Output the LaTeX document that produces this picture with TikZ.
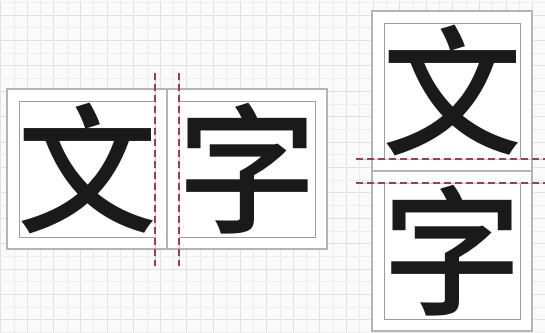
\documentclass[tikz,border=0pt]{standalone}
\usepackage{fontspec}
\IfFontExistsTF{Noto Sans CJK SC Medium}
  {\newfontfamily\cjk{Noto Sans CJK SC Medium}}
  {\newfontfamily\cjk{Noto Sans CJK SC}}
\usetikzlibrary{shadows}
\definecolor{bgc}{HTML}{FAFAFA}
\definecolor{gridc}{HTML}{E2E2E2}
\definecolor{gridminor}{HTML}{EDEDED}
\definecolor{outerc}{HTML}{B4B4B4}
\definecolor{innerc}{HTML}{9C9C9C}
\definecolor{guidec}{HTML}{9E3E50}
\definecolor{pinkc}{HTML}{F0B8C0}
\definecolor{inkc}{HTML}{1A1A1A}
\begin{document}
\begin{tikzpicture}[x=1pt,y=-1pt,
  cell/.style={draw=outerc, line width=1.2pt, fill=white, minimum size=160pt, inner sep=0pt,
    drop shadow={shadow xshift=1pt, shadow yshift=-1.2pt, opacity=0.25}},
  face/.style={draw=innerc, line width=0.9pt, minimum size=136pt, inner sep=0pt},
  glyph/.style={font=\cjk\fontsize{140}{140}\selectfont, text=inkc, inner sep=0pt, anchor=base},
  guide/.style={draw=guidec, line width=1.6pt, dash pattern=on 7pt off 4pt},
  guidebg/.style={draw=pinkc, line width=0.6pt}]
\useasboundingbox (0,0) rectangle (545,332);
\fill[bgc] (0,0) rectangle (545,332);
% grid
\foreach \i in {0,...,20} {
  \draw[gridminor, line width=0.6pt] ({13.8+26.6*\i},0) -- ++(0,332);
  \draw[gridc, line width=0.8pt] ({0.5+26.6*\i},0) -- ++(0,332);
}
\foreach \j in {0,...,13} {
  \draw[gridminor, line width=0.6pt] (0,{2.3+25.4*\j}) -- ++(545,0);
  \draw[gridc, line width=0.8pt] (0,{15+25.4*\j}) -- ++(545,0);
}
% horizontal arrangement
\node[cell] (h1) at (87,169) {};
\node[cell] (h2) at (247,169) {};
\node[face] (h1f) at (h1.center) {};
\node[face] (h2f) at (h2.center) {};
\node[glyph] (h1g) at (87,222) {文};
\node[glyph] (h2g) at (247,222) {字};
% vertical arrangement
\node[cell] (v1) at (452,91) {};
\node[cell] (v2) at (452,251) {};
\node[face] (v1f) at (v1.center) {};
\node[face] (v2f) at (v2.center) {};
\node[glyph] (v1g) at (452,144) {文};
\node[glyph] (v2g) at (452,304) {字};
% guide lines
\coordinate (ha1) at (155,73);  \coordinate (hb1) at (155,266);
\coordinate (ha2) at (179,73);  \coordinate (hb2) at (179,266);
\coordinate (va1) at (356,159); \coordinate (vb1) at (545,159);
\coordinate (va2) at (356,183); \coordinate (vb2) at (545,183);
\foreach \a/\b in {ha1/hb1, ha2/hb2, va1/vb1, va2/vb2} {
  \draw[guidebg] (\a) -- (\b);
  \draw[guide] (\a) -- (\b);
}
\end{tikzpicture}
\end{document}
